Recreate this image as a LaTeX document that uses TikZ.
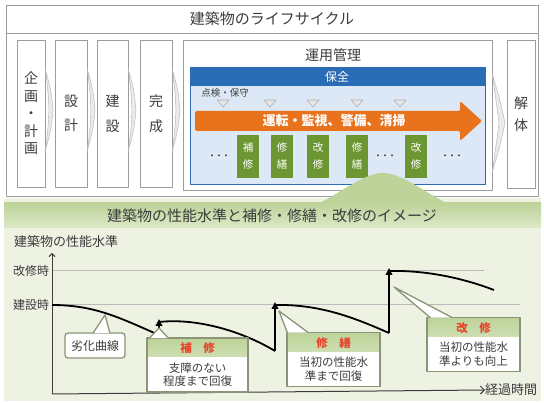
\documentclass[tikz,border=0pt]{standalone}
\usepackage{fontspec}
\setmainfont{Noto Sans CJK JP}
\usetikzlibrary{arrows.meta}
\definecolor{ink}{HTML}{3C3C3C}
\definecolor{frame}{HTML}{9C9C9C}
\definecolor{bluehead}{HTML}{2A6DB5}
\definecolor{bluepale}{HTML}{DCE8F5}
\definecolor{flowor}{HTML}{E8731C}
\definecolor{workgreen}{HTML}{6C9632}
\definecolor{pagegreen}{HTML}{EEF2E3}
\definecolor{bannertop}{HTML}{BDD399}
\definecolor{bannerbot}{HTML}{DDE9C8}
\definecolor{noteedge}{HTML}{8A9578}
\definecolor{headred}{HTML}{E6452A}

\begin{document}
\begin{tikzpicture}[x=1pt,y=-1pt,line join=round,
  every node/.style={inner sep=0pt,text=ink},
  stagebox/.style={draw=frame,fill=white,line width=0.8pt,align=center,font=\fontsize{14}{17.5}\selectfont},
  chevron/.style={draw=frame!80,fill=frame!20,line width=0.4pt},
  workbox/.style={fill=workgreen,text=white,minimum width=22pt,minimum height=43pt,align=center,font=\fontsize{10.5}{17}\selectfont},
  gauge/.style={draw=frame!80,fill=frame!25,line width=0.6pt},
  level/.style={draw=frame!70,line width=1pt},
  decay/.style={line width=1.8pt},
  jump/.style={line width=1.8pt,-{Triangle[length=7pt,width=6.5pt]}},
  note/.style={draw=noteedge,fill=white,line width=1.3pt,rounded corners=3pt,minimum width=60pt,minimum height=25pt,font=\fontsize{12}{14}\selectfont},
  repairbox/.style={draw=noteedge,fill=white,line width=1.3pt,minimum height=54pt,align=center,font=\fontsize{11.5}{13.5}\selectfont,
    path picture={\shade[top color=bannertop,bottom color=bannerbot!60] (path picture bounding box.north west) rectangle ([yshift=-19pt]path picture bounding box.north east);}},
  tail/.style={draw=noteedge,fill=white,line width=1.3pt},
  head/.style={text=headred,font=\fontsize{12}{14}\selectfont\bfseries}
]
\useasboundingbox (0,0) rectangle (544,403);

% lower half: background and banner
\fill[pagegreen] (4,198) rectangle (541,401);
\shade[top color=bannertop,bottom color=bannerbot] (4,203) rectangle (541,228);

% life cycle frame
\draw[stagebox] (6,5) rectangle (538,196);
\draw[frame,line width=0.8pt] (6,33) -- (538,33);
\node (cycletitle) at (272,19) {\fontsize{15}{18}\selectfont 建築物のライフサイクル};

\node[stagebox,minimum width=28pt,minimum height=147pt] (plan) at (31,113.5) {企\\画\\・\\計\\画};
\node[stagebox,minimum width=32pt,minimum height=147pt] (design) at (71,113.5) {設\\[7pt]計};
\node[stagebox,minimum width=31pt,minimum height=147pt] (build) at (112.5,113.5) {建\\[7pt]設};
\node[stagebox,minimum width=32pt,minimum height=147pt] (finish) at (156,113.5) {完\\[7pt]成};
\node[stagebox,minimum width=309pt,minimum height=150pt] (operation) at (337.5,115) {};
\node[stagebox,minimum width=28pt,minimum height=148pt] (demolish) at (521,114) {解\\[5pt]体};
\node (optitle) at (333,55) {\fontsize{14}{16}\selectfont 運用管理};

\foreach \cx in {45,87,128,172}
  \draw[chevron] (\cx,68) .. controls (\cx+6,90) .. (\cx+8,110) .. controls (\cx+6,130) .. (\cx,152)
    .. controls (\cx+3,130) .. (\cx+4,110) .. controls (\cx+3,90) .. (\cx,68) -- cycle;
\draw[chevron] (492,73) .. controls (500,100) .. (505,123) .. controls (500,146) .. (492,173)
  .. controls (496,146) .. (499,123) .. controls (496,100) .. (492,73) -- cycle;

% maintenance
\draw[draw=bluehead,fill=bluepale,line width=1pt] (190,68) rectangle (485,185);
\fill[bluehead] (190,68) rectangle (485,86);
\node[text=white,font=\fontsize{12}{14}\selectfont] (hozen) at (337,77) {保全};
\node[font=\fontsize{9.5}{11}\selectfont] (inspect) at (225,93) {点検・保守};
\foreach \tx in {223,270,313,357,400}
  \draw[gauge] (\tx-6,100) -- (\tx+6,100) -- (\tx,107) -- cycle;

\fill[flowor,rounded corners=1.5pt] (195,111) -- (460,111) -- (460,101) -- (482,121) -- (460,141) -- (460,131) -- (195,131) -- cycle;
\node[text=white,font=\fontsize{13}{15}\selectfont\bfseries] (flow) at (334,121) {運転・監視、警備、清掃};

\node[workbox] (work1) at (248,156.5) {補\\修};
\node[workbox] (work2) at (282,156.5) {修\\繕};
\node[workbox] (work3) at (318,156.5) {改\\修};
\node[workbox] (work4) at (357,156.5) {修\\繕};
\node[workbox] (work5) at (416,156.5) {改\\修};
\node[font=\fontsize{7}{8}\selectfont\bfseries] (dots1) at (219,157) {・・・};
\node[font=\fontsize{7}{8}\selectfont\bfseries] (dots2) at (385,157) {・・・};
\node[font=\fontsize{7}{8}\selectfont\bfseries] (dots3) at (452,157) {・・・};

% link to the image below
\fill[bannertop] (318,204) .. controls (345,190) and (365,173) .. (383,173)
  .. controls (401,173) and (421,190) .. (448,204) -- cycle;
\node (banner) at (272,216) {\fontsize{15}{18}\selectfont 建築物の性能水準と補修・修繕・改修のイメージ};

% performance chart
\node[anchor=west,font=\fontsize{13}{15}\selectfont] (ylabel) at (14,242) {建築物の性能水準};
\node[font=\fontsize{12}{14}\selectfont] (kaishuji) at (31,271) {改修時};
\node[font=\fontsize{12}{14}\selectfont] (kensetsuji) at (31,305) {建設時};
\node[anchor=west,font=\fontsize{13}{15}\selectfont] (xlabel) at (485,390) {経過時間};
\coordinate (origin) at (52,394);

\draw[level] (kaishuji.east) ++(3,0) -- (484,271);
\draw[level] (kensetsuji.east) ++(3,0) -- (520,305);
\draw[ink,line width=1pt,-{Straight Barb[length=3pt]}] (origin) -- (52,253);
\draw[ink,line width=1pt,-{Straight Barb[length=4pt]}] (origin) -- (xlabel.west);

\draw[decay] (52,305) .. controls (95,305) and (120,318) .. (159,335);
\draw[jump] (159,335) -- (159,319);
\draw[decay] (159,322) .. controls (195,318) and (240,330) .. (275,351);
\draw[jump] (275,351) -- (275,302);
\draw[decay] (275,305) .. controls (320,304) and (355,318) .. (389,333);
\draw[jump] (389,333) -- (389,268);
\draw[decay] (389,271) .. controls (430,270) and (468,280) .. (494,290);

\coordinate (tip0) at (105,315);
\coordinate (tip1) at (159,328);
\coordinate (tip2) at (279,311);
\coordinate (tip3) at (394,287);

\node[note] (rekka) at (95,345.5) {劣化曲線};
\path[tail] ([xshift=-2pt,yshift=-0.8pt]rekka.north) -- (tip0) -- ([xshift=15pt,yshift=-0.8pt]rekka.north);

\node[repairbox,minimum width=101pt] (hoshu) at (197.5,365) {{\color{headred}\bfseries 補　修}\\[6pt]支障のない\\程度まで回復};
\path[tail] ([xshift=3pt,yshift=-0.8pt]hoshu.north west) -- (tip1) -- ([xshift=22pt,yshift=-0.8pt]hoshu.north west);

\node[repairbox,minimum width=93pt] (shuzen) at (333.5,359.5) {{\color{headred}\bfseries 修　繕}\\[6pt]当初の性能水\\準まで回復};
\path[tail] ([xshift=1pt,yshift=-0.8pt]shuzen.north west) -- (tip2) -- ([xshift=22pt,yshift=-0.8pt]shuzen.north west);

\node[repairbox,minimum width=93pt] (kaishu) at (473.5,344.5) {{\color{headred}\bfseries 改　修}\\[6pt]当初の性能水\\準よりも向上};
\path[tail] ([xshift=4pt,yshift=-0.8pt]kaishu.north west) -- (tip3) -- ([xshift=26pt,yshift=-0.8pt]kaishu.north west);
\end{tikzpicture}
\end{document}
